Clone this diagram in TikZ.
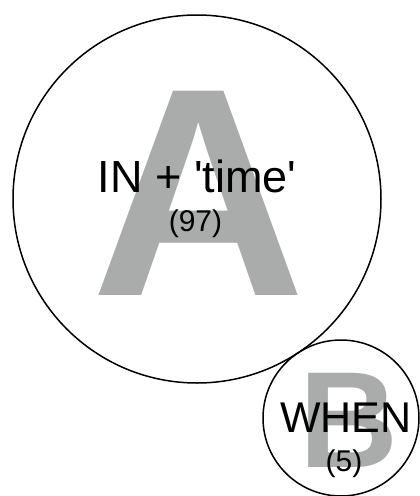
\documentclass[tikz,border=0pt]{standalone}
\usepackage{fontspec}
\setmainfont{Liberation Sans}
\definecolor{lettergrey}{RGB}{170,172,172}
\tikzset{
  setcircle/.style={draw=black, line width=1.5pt},
  bigletter/.style={text=lettergrey, font=\bfseries, inner sep=0pt, anchor=base},
  lbl/.style={text=black, inner sep=0pt, anchor=base}
}
\begin{document}
\begin{tikzpicture}[x=1pt,y=-1pt]
\useasboundingbox (0,0) rectangle (420,496);
\clip (0,0) rectangle (420,496);
% grey letters
\node[bigletter] (letA) at (198.5,295) {\fontsize{297}{297}\selectfont A};
\node[bigletter] (letB) at (348.5,467) {\fontsize{137}{137}\selectfont B};
% circles
\draw[setcircle] (197,199) circle[radius=184];
\draw[setcircle] (341,418) circle[radius=78];
% labels
\node[lbl] (setA) at (197,192) {\fontsize{45}{45}\selectfont IN + \textquotesingle time\textquotesingle};
\node[lbl] (numA) at (195.5,231) {\fontsize{30}{30}\selectfont (97)};
\node[lbl] (setB) at (346,432) {\fontsize{43}{43}\selectfont WHEN};
\node[lbl] (numB) at (344,471) {\fontsize{30}{30}\selectfont (5)};
\end{tikzpicture}
\end{document}
